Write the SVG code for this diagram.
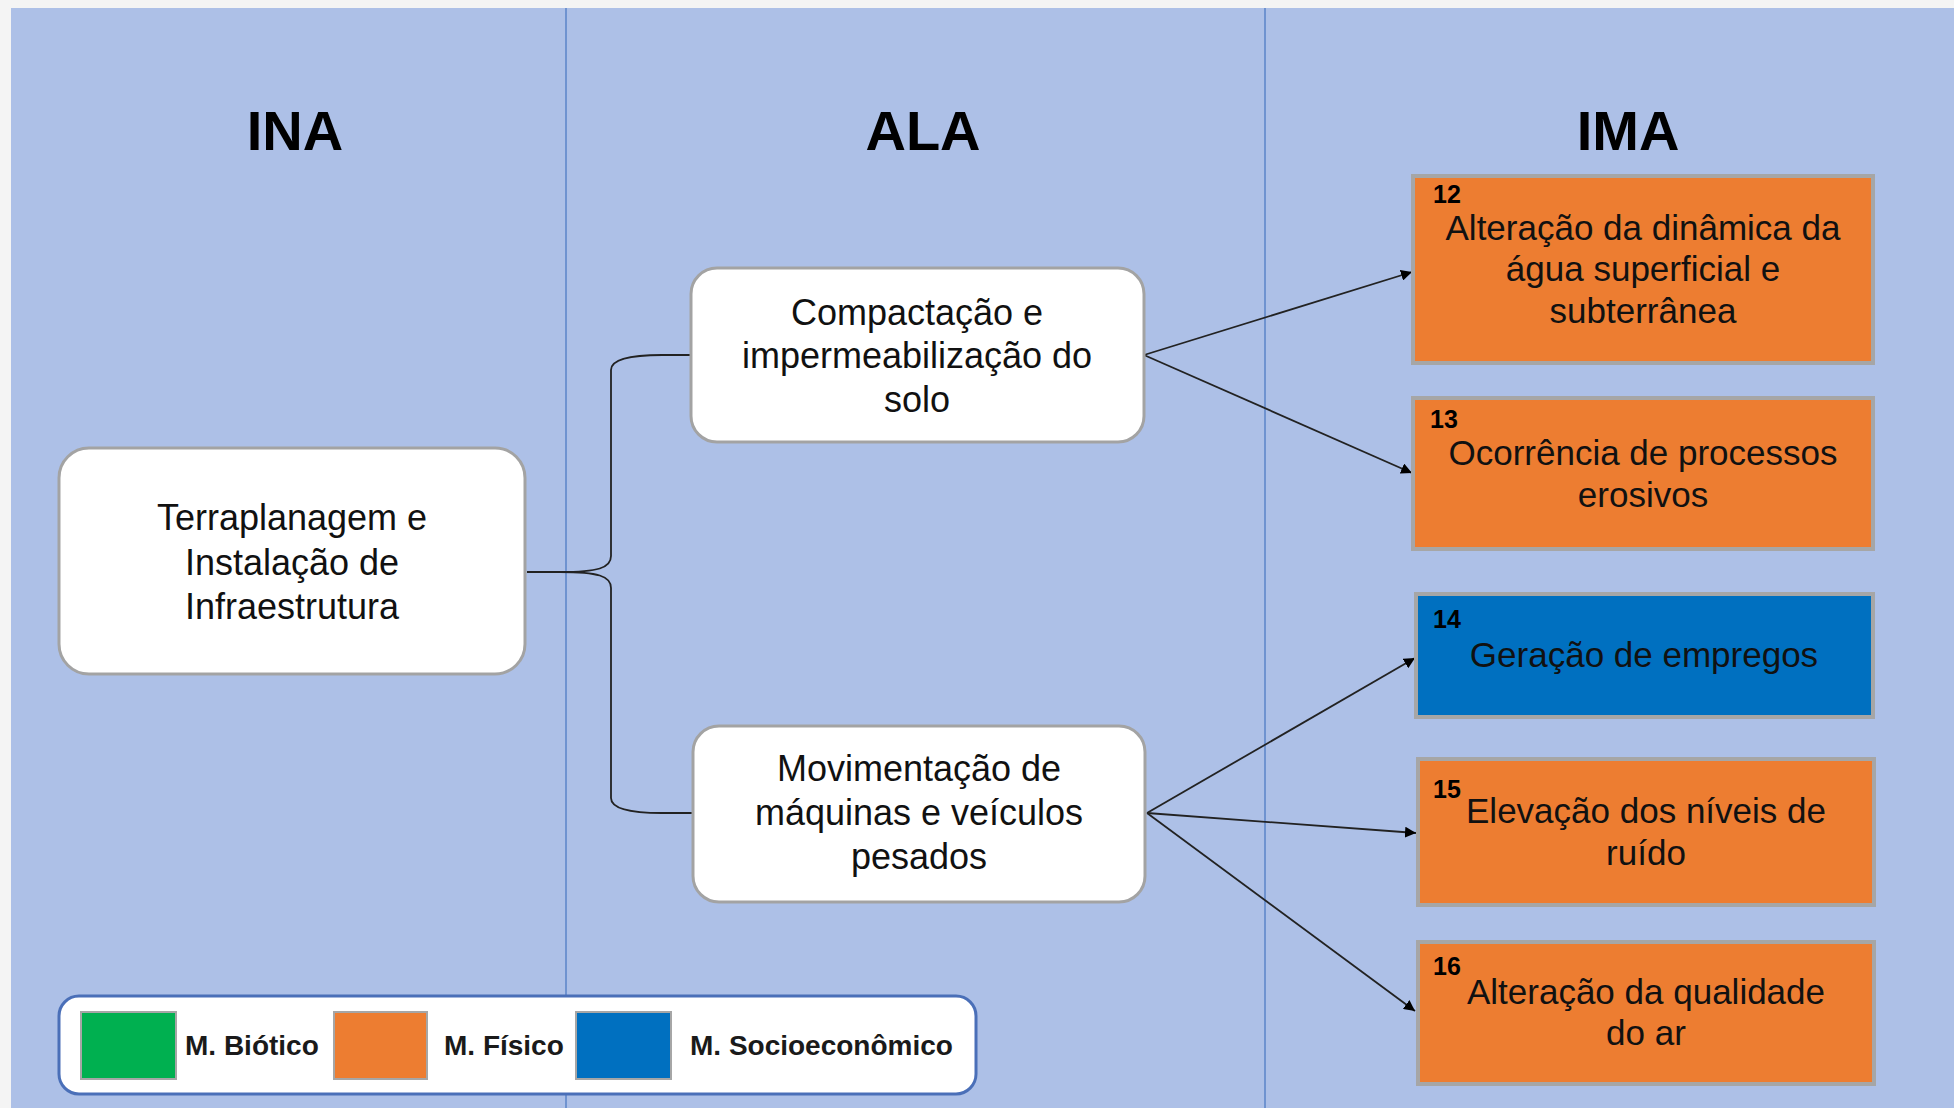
<svg xmlns="http://www.w3.org/2000/svg" width="1954" height="1108" viewBox="0 0 1954 1108">
<defs>
<style>
.hdr{font-family:"Liberation Sans",Arial,sans-serif;font-weight:bold;font-size:56px;fill:#000;text-anchor:middle}
.wbox{fill:#fff;stroke:#a3a3a3;stroke-width:3}
.wt{font-family:"Liberation Sans",Arial,sans-serif;font-size:36px;fill:#111;text-anchor:middle}
.ibox{stroke:#a6a6a6;stroke-width:4}
.org{fill:#ED7D31}
.blu{fill:#0070C0}
.grn{fill:#00B050}
.it{font-family:"Liberation Sans",Arial,sans-serif;font-size:35px;fill:#111;text-anchor:middle}
.num{font-family:"Liberation Sans",Arial,sans-serif;font-size:25px;font-weight:bold;fill:#000}
.lg{font-family:"Liberation Sans",Arial,sans-serif;font-size:28px;font-weight:bold;fill:#1a1a1a}
.sw{stroke:#a6a6a6;stroke-width:2}
.con{fill:none;stroke:#222;stroke-width:1.8}
</style>
<marker id="ah" viewBox="0 0 10 10" refX="10" refY="5" markerWidth="11" markerHeight="11" markerUnits="userSpaceOnUse" orient="auto">
<path d="M0,0 L10,5 L0,10 z" fill="#000"/>
</marker>
</defs>
<rect x="0" y="0" width="1954" height="1108" fill="#f4f4f4"/>
<rect x="11" y="8" width="1943" height="1100" fill="#ADC0E7"/>
<line x1="566" y1="8" x2="566" y2="1108" stroke="#6f93d0" stroke-width="2"/>
<line x1="1265" y1="8" x2="1265" y2="1108" stroke="#6f93d0" stroke-width="2"/>

<g id="headers">
<text class="hdr" x="295" y="150">INA</text>
<text class="hdr" x="923" y="150">ALA</text>
<text class="hdr" x="1628" y="150">IMA</text>
</g>

<g id="connectors">
<path class="con" d="M527,572 L560,572 C598,572 611,568 611,556 L611,370 C611,360 628,355 662,355 L690,355"/>
<path class="con" d="M527,572 L560,572 C598,572 611,576 611,588 L611,798 C611,808 628,813 662,813 L692,813"/>
<line class="con" x1="1144" y1="355" x2="1412" y2="272" marker-end="url(#ah)"/>
<line class="con" x1="1144" y1="355" x2="1412" y2="473" marker-end="url(#ah)"/>
<line class="con" x1="1147" y1="813" x2="1415" y2="658" marker-end="url(#ah)"/>
<line class="con" x1="1147" y1="813" x2="1416" y2="833" marker-end="url(#ah)"/>
<line class="con" x1="1147" y1="813" x2="1415" y2="1011" marker-end="url(#ah)"/>
</g>

<g id="n-terraplanagem">
<rect class="wbox" x="59" y="448" width="466" height="226" rx="30"/>
<text class="wt" x="292" y="530">Terraplanagem e</text>
<text class="wt" x="292" y="575">Instalação de</text>
<text class="wt" x="292" y="619">Infraestrutura</text>
</g>

<g id="n-compactacao">
<rect class="wbox" x="691" y="268" width="453" height="174" rx="26"/>
<text class="wt" x="917" y="325">Compactação e</text>
<text class="wt" x="917" y="368">impermeabilização do</text>
<text class="wt" x="917" y="412">solo</text>
</g>

<g id="n-movimentacao">
<rect class="wbox" x="693" y="726" width="452" height="176" rx="26"/>
<text class="wt" x="919" y="781">Movimentação de</text>
<text class="wt" x="919" y="825">máquinas e veículos</text>
<text class="wt" x="919" y="869">pesados</text>
</g>

<g id="n-12">
<rect class="ibox org" x="1413" y="176" width="460" height="187"/>
<text class="num" x="1433" y="203">12</text>
<text class="it" x="1643" y="240">Alteração da dinâmica da</text>
<text class="it" x="1643" y="281">água superficial e</text>
<text class="it" x="1643" y="323">subterrânea</text>
</g>

<g id="n-13">
<rect class="ibox org" x="1413" y="398" width="460" height="151"/>
<text class="num" x="1430" y="428">13</text>
<text class="it" x="1643" y="465">Ocorrência de processos</text>
<text class="it" x="1643" y="507">erosivos</text>
</g>

<g id="n-14">
<rect class="ibox blu" x="1416" y="594" width="457" height="123"/>
<text class="num" x="1433" y="628">14</text>
<text class="it" x="1644" y="667">Geração de empregos</text>
</g>

<g id="n-15">
<rect class="ibox org" x="1418" y="759" width="456" height="146"/>
<text class="num" x="1433" y="798">15</text>
<text class="it" x="1646" y="823">Elevação dos níveis de</text>
<text class="it" x="1646" y="865">ruído</text>
</g>

<g id="n-16">
<rect class="ibox org" x="1418" y="942" width="456" height="142"/>
<text class="num" x="1433" y="975">16</text>
<text class="it" x="1646" y="1004">Alteração da qualidade</text>
<text class="it" x="1646" y="1045">do ar</text>
</g>

<g id="legend">
<rect x="59" y="996" width="917" height="98" rx="20" fill="#fff" stroke="#4a6fb8" stroke-width="3"/>
<rect class="sw grn" x="81" y="1012" width="95" height="67"/>
<text class="lg" x="185" y="1055">M. Biótico</text>
<rect class="sw org" x="334" y="1012" width="93" height="67"/>
<text class="lg" x="444" y="1055">M. Físico</text>
<rect class="sw blu" x="576" y="1012" width="95" height="67"/>
<text class="lg" x="690" y="1055">M. Socioeconômico</text>
</g>
</svg>
